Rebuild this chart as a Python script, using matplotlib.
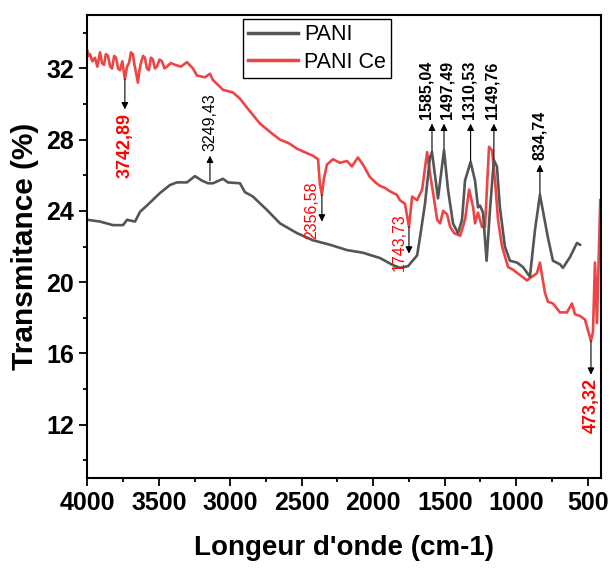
import matplotlib
matplotlib.use("Agg")
import matplotlib.pyplot as plt
from matplotlib.ticker import MultipleLocator

plt.rcParams['font.family'] = ['Liberation Sans', 'DejaVu Sans']

# PANI (grey curve)
pani_wn = [4000, 3911, 3820, 3750, 3722, 3666, 3631, 3583, 3492, 3422,
           3373, 3303, 3247, 3198, 3156, 3121, 3051, 3016, 2932, 2897,
           2862, 2841, 2743, 2652, 2533, 2422, 2303, 2184, 2072, 1952,
           1861, 1812, 1756, 1693, 1673, 1638, 1603, 1589, 1547, 1505,
           1477, 1442, 1407, 1379, 1358, 1319, 1288, 1267, 1253, 1232,
           1207, 1184, 1156, 1135, 1114, 1079, 1044, 995, 953, 904,
           869, 834, 813, 778, 743, 694, 673, 624, 575, 554]
pani_t = [23.5, 23.4, 23.2, 23.2, 23.5, 23.4, 23.95, 24.3, 25.0, 25.45,
          25.6, 25.6, 25.95, 25.7, 25.55, 25.55, 25.8, 25.6, 25.55, 25.05,
          24.9, 24.8, 24.05, 23.3, 22.75, 22.35, 22.1, 21.8, 21.65, 21.35,
          20.95, 20.8, 20.9, 21.5, 22.5, 24.4, 27.0, 27.3, 24.7, 27.4,
          25.2, 23.3, 22.75, 23.5, 25.7, 26.75, 25.7, 24.2, 24.3, 23.9,
          21.2, 24.0, 26.85, 26.5, 24.2, 22.0, 21.2, 21.1, 20.85, 20.3,
          22.9, 24.9, 24.0, 22.5, 21.2, 21.0, 20.8, 21.4, 22.2, 22.1]

# PANI Ce (red curve)
ce_wn = [4000, 3990, 3981, 3965, 3946, 3930, 3911, 3897, 3883, 3870,
         3855, 3840, 3827, 3812, 3799, 3785, 3771, 3755, 3737, 3722,
         3708, 3695, 3681, 3670, 3660, 3646, 3635, 3625, 3610, 3597,
         3583, 3569, 3555, 3541, 3527, 3513, 3495, 3478, 3460, 3443,
         3415, 3387, 3345, 3303, 3261, 3233, 3177, 3142, 3121, 3051,
         2981, 2932, 2883, 2792, 2701, 2652, 2590, 2535, 2480, 2422,
         2386, 2373, 2359, 2345, 2324, 2282, 2233, 2184, 2149, 2107,
         2072, 2023, 1985, 1952, 1920, 1883, 1834, 1813, 1778, 1750,
         1728, 1693, 1658, 1623, 1603, 1581, 1553, 1532, 1511, 1483,
         1462, 1434, 1392, 1358, 1329, 1301, 1288, 1267, 1239, 1218,
         1190, 1169, 1148, 1127, 1099, 1057, 1023, 974, 925, 890,
         855, 834, 799, 778, 743, 694, 645, 610, 589, 554,
         519, 498, 477, 463, 449, 435, 412]
ce_t = [33.0, 32.7, 32.8, 32.4, 32.6, 32.1, 32.9, 32.3, 32.2, 32.8,
        32.7, 32.1, 32.0, 32.7, 32.6, 32.0, 31.9, 32.4, 31.4, 32.1,
        32.3, 32.9, 32.8, 32.2, 31.8, 31.2, 31.9, 32.3, 32.7, 32.6,
        32.0, 31.9, 32.6, 32.5, 32.0, 32.1, 32.5, 32.4, 32.0, 32.1,
        32.3, 32.2, 32.1, 32.35, 32.0, 31.6, 31.5, 31.7, 31.35, 30.8,
        30.65, 30.3, 29.8, 28.9, 28.3, 28.0, 27.8, 27.5, 27.3, 27.1,
        26.9, 25.5, 24.9, 25.8, 26.6, 26.9, 26.7, 26.8, 26.5, 27.0,
        26.6, 25.9, 25.6, 25.4, 25.3, 25.1, 24.9, 24.6, 24.4, 23.1,
        24.8, 24.6, 25.2, 27.3, 26.1, 25.0, 23.5, 23.3, 24.0, 23.8,
        23.1, 22.75, 22.6, 23.5, 25.2, 24.2, 23.3, 23.9, 23.1, 23.1,
        27.6, 27.4, 25.7, 23.5, 22.0, 20.85, 20.7, 20.4, 20.1, 20.3,
        20.5, 21.1, 19.4, 18.9, 18.8, 18.3, 18.3, 18.8, 18.2, 18.1,
        17.9, 17.3, 16.7, 17.2, 21.1, 17.7, 24.6]

# peak annotations pointing up: label, arrow x, text x, arrow start / end
up_labels = ["3249,43", "1585,04", "1497,49", "1310,53", "1149,76", "834,74"]
up_x = [3142, 1589, 1505, 1319, 1156, 834]
up_tx = [3142, 1628, 1482, 1331, 1170, 834]
up_y0 = [25.7, 27.35, 27.45, 26.8, 26.9, 24.95]
up_y1 = [27.1, 28.9, 28.9, 28.9, 28.9, 26.6]

# peak annotations pointing down
down_labels = ["3742,89", "2356,58", "1743,73", "473,32"]
down_x = [3737, 2359, 1750, 477]
down_y0 = [31.4, 24.9, 23.1, 16.7]
down_y1 = [29.7, 23.4, 21.6, 14.8]

fig = plt.figure(figsize=(6.1, 5.74), dpi=100)
ax = fig.add_axes([0.1431, 0.1672, 0.8421, 0.8067])

l2, = ax.plot(ce_wn, ce_t, color='#ef4444', lw=1.9, label='PANI Ce')
l1, = ax.plot(pani_wn, pani_t, color='#555555', lw=1.9, label='PANI')

arrow = dict(arrowstyle='-|>', color='black', lw=0.8, mutation_scale=10,
             shrinkA=0, shrinkB=0)
for lab, x, tx, y0, y1 in zip(up_labels, up_x, up_tx, up_y0, up_y1):
    ax.annotate('', xy=(x, y1), xytext=(x, y0), arrowprops=arrow)
    bold = lab != "3249,43"
    ax.text(tx, y1 + 0.25, lab, rotation=90, ha='center', va='bottom',
            fontsize=11.5, fontweight='bold' if bold else 'normal',
            color='black')

for lab, x, y0, y1 in zip(down_labels, down_x, down_y0, down_y1):
    ax.annotate('', xy=(x, y1), xytext=(x, y0), arrowprops=arrow)
    if lab in ("3742,89", "473,32"):
        ax.text(x, y1 - 0.2, lab, rotation=90, ha='center', va='top',
                fontsize=13, fontweight='bold', color='red')
    else:
        ax.text(x + 70, (y0 + y1) / 2 - 0.1, lab, rotation=90, ha='center',
                va='center', fontsize=11.5, color='red')

ax.set_xlim(4000, 407)
ax.set_ylim(9, 35)
ax.xaxis.set_major_locator(MultipleLocator(500))
ax.xaxis.set_minor_locator(MultipleLocator(250))
ax.yaxis.set_major_locator(MultipleLocator(4))
ax.yaxis.set_minor_locator(MultipleLocator(2))
ax.set_yticks([12, 16, 20, 24, 28, 32])
ax.tick_params(which='both', direction='out', width=1.3, top=False, right=False)
ax.tick_params(which='major', length=6, labelsize=18)
ax.tick_params(which='minor', length=3)
for t in ax.get_xticklabels() + ax.get_yticklabels():
    t.set_fontweight('bold')
for s in ax.spines.values():
    s.set_linewidth(1.5)

ax.set_xlabel("Longeur d'onde (cm-1)", fontsize=20, fontweight='bold', labelpad=14)
ax.set_ylabel("Transmitance (%)", fontsize=21.5, fontweight='bold', labelpad=5)

leg = ax.legend(handles=[l1, l2], loc='upper left',
                bbox_to_anchor=(242.7 / 610, 1 - 19 / 574),
                bbox_transform=fig.transFigure, borderaxespad=0,
                fontsize=15.5, handlelength=2.3, handletextpad=0.3,
                labelspacing=0.3, borderpad=0.25, fancybox=False,
                framealpha=1, edgecolor='black')
leg.get_frame().set_linewidth(1.0)
for h in leg.get_lines():
    h.set_linewidth(2.5)

fig.savefig("out.png", dpi=100)
